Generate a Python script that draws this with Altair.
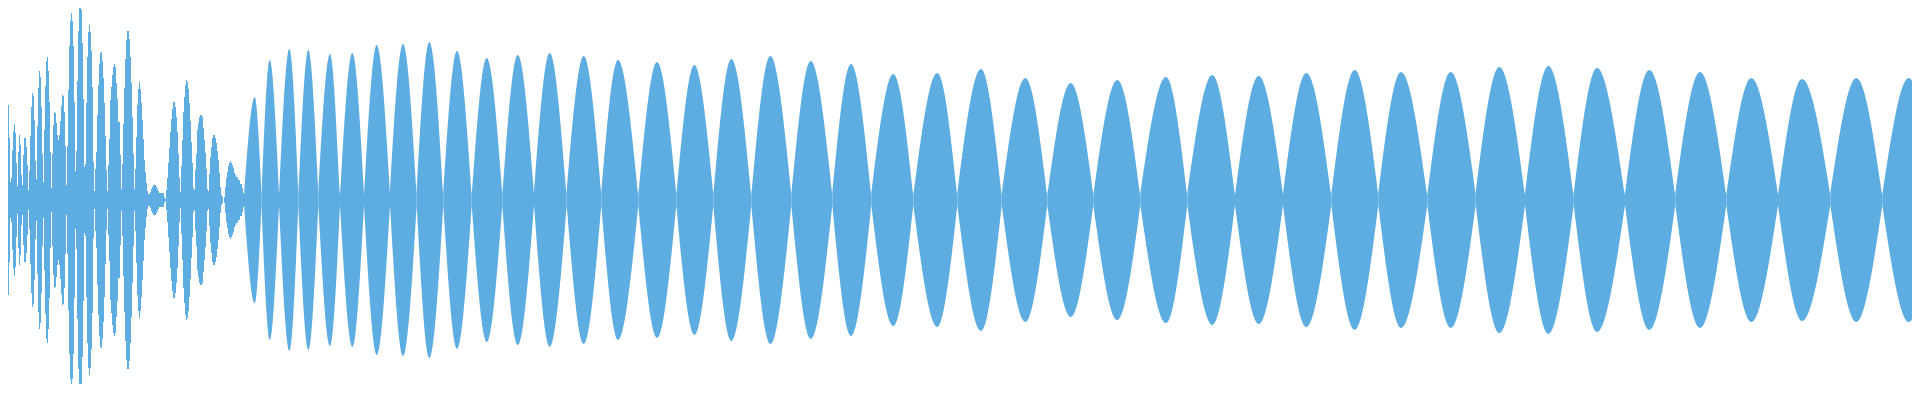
import altair as alt
import pandas as pd

# Half-amplitude of the waveform (units: 0..200), one value per sample column, samples 0..244
noise_v = [
    27, 54, 34, 50, 103, 70, 27, 89, 95, 62, 18, 22, 50, 69, 76, 67, 37, 14, 48, 65,
    55, 25, 15, 45, 62, 62, 53, 35, 10, 29, 64, 93, 107, 104, 80, 39, 21, 74, 112, 129,
    123, 93, 46, 18, 70, 114, 139, 143, 129, 98, 48, 12, 46, 75, 88, 87, 77, 65, 60, 65,
    79, 94, 105, 104, 88, 54, 15, 54, 110, 154, 179, 187, 179, 154, 98, 29, 49, 119, 169, 194,
    199, 190, 157, 101, 33, 36, 97, 143, 168, 175, 168, 149, 113, 38, 9, 31, 48, 85, 115, 136,
    147, 148, 139, 122, 97, 64, 30, 9, 35, 61, 100, 113, 125, 133, 136, 133, 117, 101, 78, 78,
    45, 11, 36, 76, 112, 141, 160, 169, 169, 161, 143, 117, 83, 46, 11, 31, 63, 95, 111, 118,
    111, 97, 80, 61, 40, 28, 17, 9, 6, 6, 8, 11, 13, 15, 15, 15, 13, 11, 9, 7,
    7, 7, 7, 7, 3, 1, 10, 22, 37, 52, 68, 81, 91, 98, 98, 93, 83, 68, 46, 22,
    8, 34, 60, 88, 103, 115, 120, 118, 111, 97, 79, 58, 37, 12, 10, 30, 46, 70, 77, 83,
    85, 85, 83, 72, 60, 47, 31, 11, 9, 26, 43, 53, 62, 65, 65, 62, 57, 49, 40, 27,
    13, 5, 3, 0, 3, 13, 22, 28, 34, 37, 39, 37, 35, 32, 27, 25, 23, 23, 20, 20,
    16, 16, 12, 7, 4,
]

# Regular part: lobes between "necks"
lobe_neck_x = [
    244, 261.5, 279, 298.3, 318.3, 340, 364, 390, 416.7, 443.3, 471.7, 502.3, 534,
    566.7, 601.3, 638.3, 676.3, 713.3, 751.3, 791.3, 832.3, 871.3, 913.3, 957.3,
    1001.7, 1047.3, 1093.3, 1140.3, 1187.3, 1235, 1283, 1331.3, 1378.3, 1427.3,
    1475.7, 1525, 1573.7, 1625, 1675.3, 1726.3, 1778, 1830.3, 1882.3, 1935,
]
lobe_peak_x = [
    254.7, 269.7, 289.3, 308.3, 330, 352.3, 376.7, 403, 429.3, 457, 486.7, 517.7,
    549.7, 583.7, 618, 657, 694.3, 731.3, 770.3, 810.7, 851, 893.3, 937.3, 981,
    1025.3, 1070.7, 1117.3, 1166, 1212.3, 1258.7, 1306.3, 1354.7, 1401, 1450.7,
    1499.3, 1548.3, 1597, 1649.3, 1700, 1751.3, 1802, 1856.3, 1908.7,
]
lobe_peak_v = [
    103, 140, 151, 150, 146, 147, 155, 156, 158, 149, 142, 145,
    147, 144, 140, 138, 135, 141, 144, 139, 136, 126, 127, 131,
    122, 117, 120, 123, 125, 124, 127, 130, 128, 128,
    133, 134, 132, 130, 128, 122, 121, 122, 122,
]
neck_level = 5

noise_df = pd.DataFrame({"x": [i + 0.5 for i in range(len(noise_v))], "v": noise_v})

rows = []
for k in range(len(lobe_peak_x)):
    rows.append({"lobe": k, "x": lobe_neck_x[k], "v": neck_level})
    rows.append({"lobe": k, "x": lobe_peak_x[k], "v": lobe_peak_v[k]})
    rows.append({"lobe": k, "x": lobe_neck_x[k + 1], "v": neck_level})
lobe_df = pd.DataFrame(rows)

COLOR = "#5DADE2"
xs = alt.X("x:Q", scale=alt.Scale(domain=[8, 1912], nice=False, zero=False), axis=None)
ys = alt.Y("v:Q", scale=alt.Scale(domain=[-184, 192], nice=False, zero=False), axis=None)

noise = (
    alt.Chart(noise_df)
    .transform_calculate(nv="-datum.v")
    .mark_area(interpolate="step", color=COLOR, clip=True)
    .encode(x=xs, y=ys, y2="nv:Q")
)

lobes = (
    alt.Chart(lobe_df)
    .transform_calculate(nv="-datum.v")
    .mark_area(interpolate="monotone", color=COLOR, clip=True)
    .encode(x=xs, y=ys, y2="nv:Q", detail="lobe:N")
)

chart = (
    alt.layer(noise, lobes)
    .properties(width=1904, height=376, padding=0, background="white")
    .configure_view(stroke=None)
)

chart.save("out.html", embed_options={"renderer": "svg", "actions": False})
